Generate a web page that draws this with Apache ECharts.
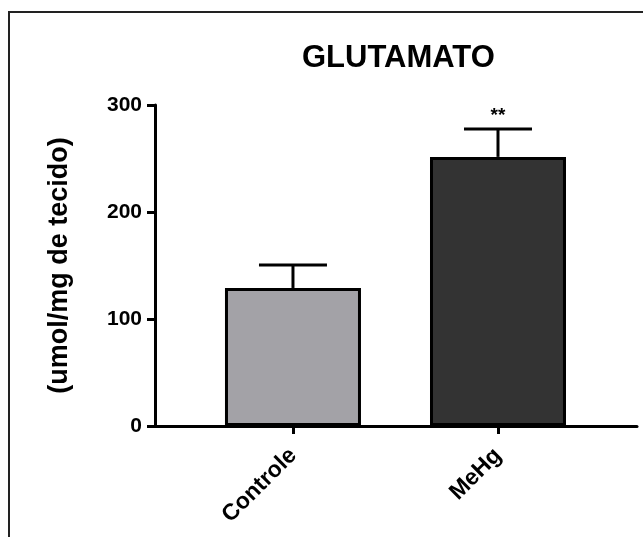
<!DOCTYPE html>
<html>
<head>
<meta charset="utf-8">
<script src="https://cdn.jsdelivr.net/npm/echarts@6/dist/echarts.min.js"></script>
<style>
  html, body { margin: 0; padding: 0; background: #fff; }
  #chart { width: 643px; height: 537px; }
</style>
</head>
<body>
<div id="chart"></div>
<script>
// dados
const categories = ['Controle', 'MeHg']
const positions = [1, 2]
const means = [129, 251.5]
const sems = [21.5, 26]
const barColors = ['#a3a2a7', '#333333']
const marks = ['', '**']
const yTicks = [0, 100, 200, 300]

const font = 'Liberation Sans, Arial, sans-serif'
const chart = echarts.init(document.getElementById('chart'))

const barData = positions.map((p, i) => ({
  value: [p, means[i]],
  itemStyle: { color: barColors[i] }
}))
const errData = positions.map((p, i) => [p, means[i], means[i] + sems[i], marks[i]])

chart.setOption({
  animation: false,
  title: {
    text: 'GLUTAMATO',
    left: 297,
    top: 38,
    textStyle: { fontFamily: font, fontSize: 31, fontWeight: 'bold', color: '#000' }
  },
  grid: { left: 155, right: 6, top: 105, bottom: 111 },
  xAxis: {
    type: 'value',
    min: 0.327,
    max: 2.678,
    splitLine: { show: false },
    axisLine: { show: true, lineStyle: { color: '#000', width: 3 } },
    axisTick: { show: true, length: 8, customValues: positions, lineStyle: { color: '#000', width: 3 } },
    axisLabel: {
      customValues: positions,
      rotate: 45,
      margin: 26,
      fontFamily: font,
      fontSize: 23,
      fontWeight: 'bold',
      color: '#000',
      formatter: v => categories[positions.indexOf(Math.round(v))] || ''
    }
  },
  yAxis: {
    type: 'value',
    min: yTicks[0],
    max: yTicks[yTicks.length - 1],
    interval: 100,
    name: '(umol/mg de tecido)',
    nameLocation: 'middle',
    nameRotate: 90,
    nameGap: 82,
    nameTextStyle: { fontFamily: font, fontSize: 27, fontWeight: 'bold', color: '#000' },
    splitLine: { show: false },
    axisLine: { show: true, lineStyle: { color: '#000', width: 3 } },
    axisTick: { show: true, length: 8, lineStyle: { color: '#000', width: 3 } },
    axisLabel: { margin: 13, fontFamily: font, fontSize: 21, fontWeight: 'bold', color: '#000' }
  },
  graphic: [{
    type: 'rect',
    shape: { x: 9, y: 12, width: 700, height: 600 },
    style: { fill: 'none', stroke: '#222', lineWidth: 2 },
    z: -10
  }],
  series: [
    {
      type: 'bar',
      barWidth: 136,
      data: barData,
      itemStyle: { borderColor: '#000', borderWidth: 3 },
      z: 2
    },
    {
      type: 'custom',
      data: errData,
      z: 3,
      renderItem: (params, api) => {
        const top = api.coord([api.value(0), api.value(2)])
        const base = api.coord([api.value(0), api.value(1)])
        const half = 34
        const style = { stroke: '#000', lineWidth: 3 }
        const children = [
          { type: 'line', shape: { x1: base[0], y1: base[1], x2: top[0], y2: top[1] }, style },
          { type: 'line', shape: { x1: top[0] - half, y1: top[1], x2: top[0] + half, y2: top[1] }, style }
        ]
        const mark = marks[params.dataIndex]
        if (mark) {
          children.push({
            type: 'text',
            style: {
              text: mark, x: top[0], y: top[1] - 4,
              align: 'center', verticalAlign: 'bottom',
              font: 'bold 19px ' + font, fill: '#000'
            }
          })
        }
        return { type: 'group', children }
      }
    }
  ]
})
</script>
</body>
</html>
